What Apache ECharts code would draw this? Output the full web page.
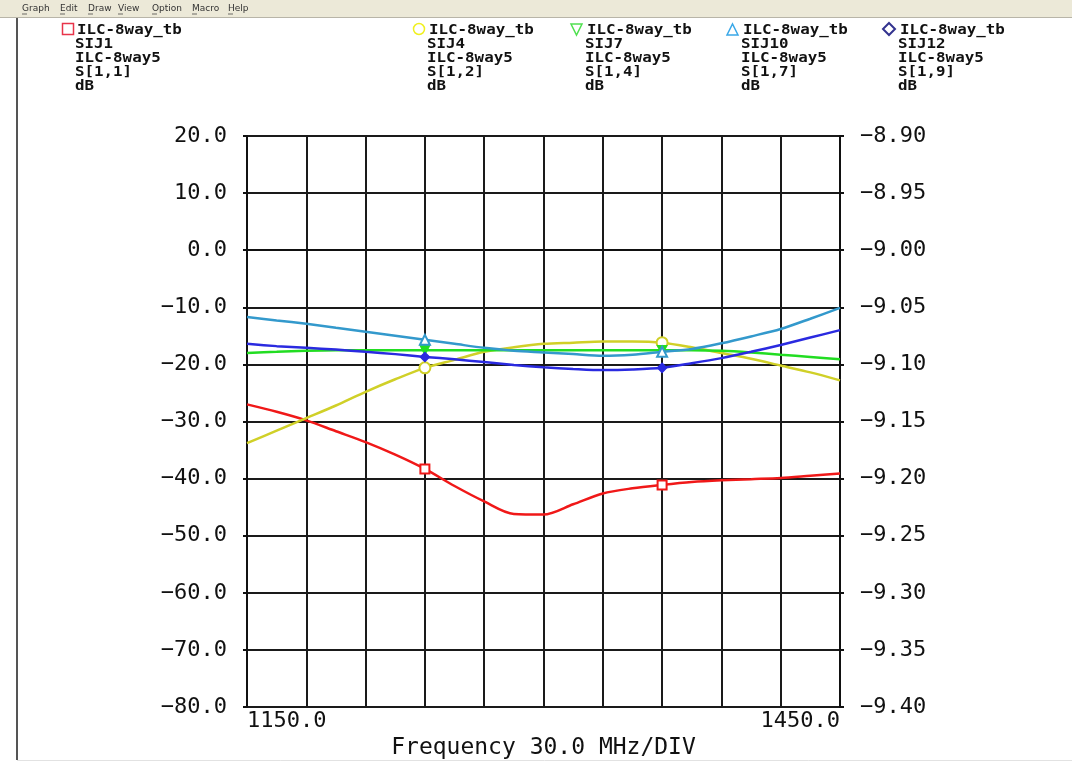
<!DOCTYPE html>
<html>
<head>
<meta charset="utf-8">
<script src="https://cdn.jsdelivr.net/npm/echarts@6/dist/echarts.min.js"></script>
<style>
html,body{margin:0;padding:0;background:#fff;}
#chart{width:1072px;height:763px;}
</style>
</head>
<body>
<div id="chart"></div>
<script>
// Frequency samples (MHz)
const freqs = [1150,1165,1180,1195,1210,1225,1240,1255,1270,1285,1300,1315,1330,1345,1360,1375,1390,1405,1420,1435,1450];
// S[1,1] dB (left axis)
const s11 = [-27.0,-28.3,-29.8,-31.7,-33.6,-35.8,-38.3,-41.3,-44.0,-46.2,-46.3,-44.5,-42.6,-41.7,-41.1,-40.6,-40.3,-40.1,-39.9,-39.5,-39.1];
// S[1,2] dB (right axis)
const s12 = [-9.169,-9.158,-9.147,-9.136,-9.124,-9.113,-9.103,-9.096,-9.089,-9.085,-9.082,-9.081,-9.080,-9.080,-9.081,-9.085,-9.090,-9.095,-9.101,-9.107,-9.114];
// S[1,4] dB (right axis)
const s14 = [-9.0900,-9.0890,-9.0880,-9.0875,-9.0875,-9.0875,-9.0875,-9.0875,-9.0875,-9.0875,-9.0875,-9.0875,-9.0875,-9.0875,-9.0875,-9.0875,-9.0880,-9.0895,-9.0915,-9.0935,-9.0955];
// S[1,7] dB (right axis)
const s17 = [-9.0585,-9.0615,-9.0645,-9.0680,-9.0715,-9.0750,-9.0785,-9.0820,-9.0855,-9.0880,-9.0895,-9.0910,-9.0925,-9.0915,-9.0890,-9.0865,-9.0815,-9.0755,-9.0690,-9.0600,-9.0505];
// S[1,9] dB (right axis)
const s19 = [-9.0820,-9.0840,-9.0855,-9.0870,-9.0890,-9.0910,-9.0935,-9.0955,-9.0980,-9.1005,-9.1025,-9.1040,-9.1050,-9.1045,-9.1030,-9.0990,-9.0945,-9.0890,-9.0830,-9.0765,-9.0700];
// Marker frequencies
const markerFreqs = [1240, 1360];
// Axis ranges / ticks
const xMin = 1150, xMax = 1450, xStep = 30;
const yLeftMin = -80, yLeftMax = 20, yLeftStep = 10;
const yRightMin = -9.40, yRightMax = -8.90, yRightStep = 0.05;
const xName = 'Frequency 30.0 MHz/DIV';
// Legend entries
const legendNames = [
  ['ILC-8way_tb','SIJ1','ILC-8way5','S[1,1]','dB'],
  ['ILC-8way_tb','SIJ4','ILC-8way5','S[1,2]','dB'],
  ['ILC-8way_tb','SIJ7','ILC-8way5','S[1,4]','dB'],
  ['ILC-8way_tb','SIJ10','ILC-8way5','S[1,7]','dB'],
  ['ILC-8way_tb','SIJ12','ILC-8way5','S[1,9]','dB']
];
const menuItems = ['Graph','Edit','Draw','View','Option','Macro','Help'];

const lineColors = ['#f01818','#d0d028','#22dd22','#3399cc','#2a2ae0'];
const legendColors = ['#e8344a','#f0f020','#50e050','#3aa8e8','#33338f'];
const mono = "'DejaVu Sans Mono', monospace";

function pairs(vals){ return freqs.map((f,i)=>[f, vals[i]]); }
function markSize(sz){ return function(v){ return markerFreqs.indexOf(v[0])>=0 ? sz : 0; }; }

const seriesDefs = [
  {name:'S[1,1]', vals:s11, axis:0, symbol:'emptyRect', size:9},
  {name:'S[1,2]', vals:s12, axis:1, symbol:'emptyCircle', size:11},
  {name:'S[1,4]', vals:s14, axis:1, symbol:'path://M0,0 L10,0 L5,9 Z', size:9},
  {name:'S[1,7]', vals:s17, axis:1, symbol:'emptyTriangle', size:10},
  {name:'S[1,9]', vals:s19, axis:1, symbol:'diamond', size:9}
];

const series = seriesDefs.map((d,i)=>({
  name:d.name, type:'line', yAxisIndex:d.axis, data:pairs(d.vals),
  smooth:0.3, showSymbol:true, symbol:d.symbol, symbolSize:markSize(d.size),
  lineStyle:{color:lineColors[i], width:2.5},
  itemStyle:{color:lineColors[i], borderColor:lineColors[i], borderWidth:1.5},
  z: 3 + i, animation:false
}));

// Graphic: window chrome and legend
const graphics = [];
graphics.push({type:'rect', shape:{x:0,y:0,width:1072,height:17}, style:{fill:'#ece9d8'}, silent:true});
graphics.push({type:'line', shape:{x1:0,y1:17.5,x2:1072,y2:17.5}, style:{stroke:'#b8b5a8',lineWidth:1}, silent:true});
graphics.push({type:'line', shape:{x1:17,y1:18,x2:17,y2:760}, style:{stroke:'#555',lineWidth:2}, silent:true});
graphics.push({type:'line', shape:{x1:17,y1:760.5,x2:1072,y2:760.5}, style:{stroke:'#e2e2e2',lineWidth:1}, silent:true});
const menuX = [22,60,88,118,152,192,228];
menuItems.forEach((m,i)=>{
  graphics.push({type:'text', x:menuX[i], y:4, style:{text:m, fill:'#333', font:"9px 'DejaVu Sans', sans-serif"}, silent:true});
  graphics.push({type:'line', shape:{x1:menuX[i],y1:14,x2:menuX[i]+5,y2:14}, style:{stroke:'#333',lineWidth:0.7}, silent:true});
});

const legX = [62, 413, 571, 727, 883];
const textX = [77, 429, 587, 743, 900];
const symY = 29;
graphics.push({type:'rect', shape:{x:legX[0]+0.5,y:symY-5.5,width:11,height:11}, style:{fill:'none',stroke:legendColors[0],lineWidth:1.5}, silent:true});
graphics.push({type:'circle', shape:{cx:legX[1]+6,cy:symY,r:5.5}, style:{fill:'none',stroke:legendColors[1],lineWidth:1.5}, silent:true});
graphics.push({type:'polygon', shape:{points:[[legX[2],symY-5],[legX[2]+11,symY-5],[legX[2]+5.5,symY+6]]}, style:{fill:'none',stroke:legendColors[2],lineWidth:1.5}, silent:true});
graphics.push({type:'polygon', shape:{points:[[legX[3],symY+6],[legX[3]+11,symY+6],[legX[3]+5.5,symY-5]]}, style:{fill:'none',stroke:legendColors[3],lineWidth:1.5}, silent:true});
graphics.push({type:'polygon', shape:{points:[[legX[4]+6,symY-6],[legX[4]+12,symY],[legX[4]+6,symY+6],[legX[4],symY]]}, style:{fill:'none',stroke:legendColors[4],lineWidth:2}, silent:true});
legendNames.forEach((lines,i)=>{
  lines.forEach((t,j)=>{
    graphics.push({type:'text', x:(j===0?textX[i]:textX[i]-2), y:23+j*14, scaleX:1.13,
      style:{text:t, fill:'#111', font:"bold 14px "+mono}, silent:true});
  });
});

const chart = echarts.init(document.getElementById('chart'), null, {renderer:'canvas'});
chart.setOption({
  animation:false,
  backgroundColor:'#fff',
  grid:{left:247, right:232, top:136, bottom:56, containLabel:false, outerBoundsMode:'none'},
  xAxis:{
    type:'value', min:xMin, max:xMax, interval:xStep,
    name:xName, nameLocation:'middle', nameGap:27,
    nameTextStyle:{fontFamily:mono, fontSize:23, color:'#111'},
    axisLine:{show:true, lineStyle:{color:'#111', width:2}},
    axisTick:{show:false},
    splitLine:{show:true, lineStyle:{color:'#1a1a1a', width:2}},
    axisLabel:{
      fontFamily:mono, fontSize:22, color:'#111', margin:3,
      showMinLabel:true, showMaxLabel:true, alignMinLabel:'left', alignMaxLabel:'right',
      formatter:function(v){ return (v===xMin||v===xMax) ? v.toFixed(1) : ''; }
    }
  },
  yAxis:[
    {
      type:'value', position:'left', min:yLeftMin, max:yLeftMax, interval:yLeftStep,
      axisLine:{show:true, lineStyle:{color:'#111', width:2}},
      axisTick:{show:true, length:4, lineStyle:{color:'#111', width:2}},
      splitLine:{show:true, lineStyle:{color:'#1a1a1a', width:2}},
      axisLabel:{fontFamily:mono, fontSize:22, color:'#111', margin:20,
        formatter:function(v){ return v.toFixed(1).replace('-', '\u2212'); }}
    },
    {
      type:'value', position:'right', min:yRightMin, max:yRightMax, interval:yRightStep,
      axisLine:{show:true, lineStyle:{color:'#111', width:2}},
      axisTick:{show:true, length:4, lineStyle:{color:'#111', width:2}},
      splitLine:{show:false},
      axisLabel:{fontFamily:mono, fontSize:22, color:'#111', margin:20,
        formatter:function(v){ return v.toFixed(2).replace('-', '\u2212'); }}
    }
  ],
  series:series,
  graphic:graphics
});
</script>
</body>
</html>
